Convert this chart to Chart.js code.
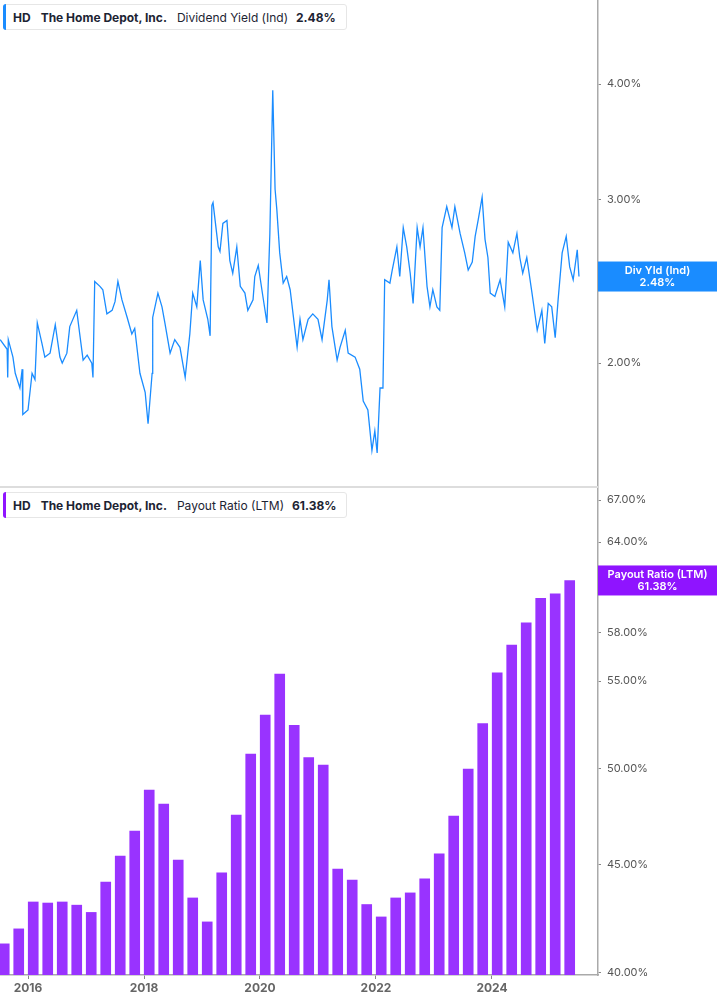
<!DOCTYPE html>
<html><head><meta charset="utf-8">
<script src="https://cdn.jsdelivr.net/npm/chart.js@4"></script>
<style>
body{margin:0;background:#fff;font-family:Inter,"Noto Sans",sans-serif;width:717px;height:1005px;overflow:hidden;position:relative}
.wrap{position:absolute;left:0;width:717px}
.leg{position:absolute;left:3px;height:26px;border:1px solid #e6e6e6;border-radius:3px;background:#fff;font-size:12px;color:#1d2433;display:flex;align-items:center;padding:0 10px 0 9px;box-sizing:border-box;white-space:nowrap;z-index:2}
.leg .bar{position:absolute;left:-1px;top:-1px;bottom:-1px;width:3px;border-radius:3px 0 0 3px}
.leg b{font-weight:700;margin-right:10px}
.leg span{margin-right:8px}
.div{position:absolute;left:0;top:486px;width:598px;height:2px;background:#ddd;z-index:1}
</style></head><body>
<div class="leg" style="top:4px"><div class="bar" style="background:#1a8cff"></div><b>HD</b><b>The Home Depot, Inc.</b><span>Dividend Yield (Ind)</span><b style="margin:0">2.48%</b></div>
<div class="leg" style="top:492px"><div class="bar" style="background:#8f14ff"></div><b>HD</b><b>The Home Depot, Inc.</b><span>Payout Ratio (LTM)</span><b style="margin:0">61.38%</b></div>
<div class="div"></div>
<div class="wrap" style="top:0;height:487px"><canvas id="c1"></canvas></div>
<div class="wrap" style="top:487px;height:518px"><canvas id="c2"></canvas></div>
<script>
const yieldDates=[2015.52,2015.64,2015.65,2015.66,2015.74,2015.78,2015.86,2015.90,2015.91,2016.00,2016.07,2016.12,2016.16,2016.24,2016.29,2016.38,2016.47,2016.55,2016.59,2016.67,2016.72,2016.84,2016.90,2016.95,2017.02,2017.10,2017.12,2017.15,2017.24,2017.29,2017.36,2017.45,2017.50,2017.55,2017.62,2017.71,2017.79,2017.84,2017.93,2018.02,2018.07,2018.14,2018.15,2018.24,2018.31,2018.36,2018.45,2018.53,2018.62,2018.71,2018.79,2018.84,2018.91,2018.97,2019.02,2019.10,2019.14,2019.17,2019.19,2019.28,2019.31,2019.36,2019.43,2019.48,2019.53,2019.60,2019.66,2019.74,2019.79,2019.88,2019.91,2019.97,2020.05,2020.12,2020.17,2020.22,2020.26,2020.29,2020.34,2020.40,2020.46,2020.52,2020.57,2020.64,2020.69,2020.74,2020.83,2020.91,2021.00,2021.07,2021.16,2021.19,2021.24,2021.33,2021.38,2021.47,2021.52,2021.64,2021.72,2021.78,2021.86,2021.93,2021.98,2022.02,2022.07,2022.12,2022.15,2022.24,2022.28,2022.36,2022.41,2022.47,2022.53,2022.59,2022.64,2022.71,2022.76,2022.81,2022.88,2022.93,2022.98,2023.05,2023.10,2023.14,2023.22,2023.31,2023.36,2023.45,2023.53,2023.59,2023.66,2023.71,2023.76,2023.83,2023.88,2023.93,2023.97,2024.05,2024.14,2024.22,2024.28,2024.36,2024.43,2024.48,2024.53,2024.60,2024.69,2024.78,2024.86,2024.91,2024.97,2025.03,2025.09,2025.14,2025.21,2025.28,2025.34,2025.40,2025.47,2025.50];
const yieldValues=[2.12,2.07,1.93,2.12,2.03,1.95,1.88,1.97,1.76,1.78,1.95,1.92,2.21,2.10,2.03,2.05,2.20,2.03,2.00,2.05,2.19,2.28,2.13,2.015,2.04,2.00,1.93,2.45,2.42,2.40,2.26,2.28,2.33,2.45,2.34,2.24,2.15,2.18,1.95,1.86,1.72,1.95,2.24,2.38,2.30,2.21,2.05,2.12,2.08,1.93,2.15,2.38,2.30,2.58,2.34,2.23,2.14,2.96,2.98,2.67,2.64,2.83,2.85,2.58,2.50,2.67,2.42,2.38,2.28,2.34,2.48,2.55,2.36,2.21,2.76,3.94,3.08,2.93,2.63,2.44,2.48,2.40,2.26,2.08,2.23,2.12,2.23,2.26,2.23,2.12,2.34,2.46,2.19,2.015,2.08,2.17,2.05,2.03,1.97,1.82,1.78,1.61,1.69,1.60,1.88,1.88,2.46,2.44,2.52,2.67,2.48,2.80,2.67,2.50,2.32,2.80,2.67,2.80,2.42,2.30,2.40,2.30,2.28,2.80,2.95,2.80,2.95,2.76,2.63,2.52,2.57,2.74,2.85,3.02,2.72,2.60,2.38,2.36,2.46,2.30,2.70,2.63,2.76,2.60,2.50,2.60,2.38,2.17,2.28,2.10,2.32,2.30,2.13,2.34,2.63,2.74,2.54,2.46,2.65,2.48];
const payoutDates=[2015.59,2015.84,2016.09,2016.34,2016.59,2016.84,2017.09,2017.34,2017.59,2017.84,2018.09,2018.34,2018.59,2018.84,2019.09,2019.34,2019.59,2019.84,2020.09,2020.34,2020.59,2020.84,2021.09,2021.34,2021.59,2021.84,2022.09,2022.34,2022.59,2022.84,2023.09,2023.34,2023.59,2023.84,2024.09,2024.34,2024.59,2024.84,2025.09,2025.34];
const payoutValues=[41.29,41.97,43.22,43.17,43.22,43.07,42.73,44.17,45.44,46.70,48.83,48.09,45.24,43.41,42.29,44.62,47.52,50.79,53.0,55.42,52.4,50.6,50.18,44.8,44.27,43.1,42.52,43.41,43.65,44.32,45.55,47.46,49.96,52.5,55.5,57.2,58.6,60.2,60.5,61.38];
const yieldTicks=[2,3,4];
const payoutTicks=[40,45,50,55,58,61,64,67];
const xYears=[2016,2018,2020,2022,2024];

const FONT='Inter, "Noto Sans", sans-serif';
function badge(text1,text2,color){
  return {id:'badge',afterDraw(ch){
    const c=ch.ctx,ys=ch.scales.y,ds=ch.data.datasets[0].data,last=ds[ds.length-1].y;
    const y=ys.getPixelForValue(last),x0=ch.chartArea.right;
    c.save();c.fillStyle=color;c.fillRect(x0,y-15,ch.width-x0,30);
    c.fillStyle='#fff';c.font='600 11px '+FONT;c.textAlign='center';c.textBaseline='middle';
    const cx=(x0+ch.width)/2;c.fillText(text1,cx,y-6);c.fillText(text2,cx,y+6);c.restore();
  }};
}
const yCommon=(min,max,ticks)=>({type:'logarithmic',position:'right',min,max,
  afterBuildTicks(s){s.ticks=ticks.map(v=>({value:v}));},
  afterFit(s){s.width=119;s.paddingTop=0;s.paddingBottom=0;},
  border:{display:true,color:'#aaa',width:1.5},
  grid:{drawOnChartArea:false,drawTicks:true,tickLength:3,color:'#888'},
  ticks:{color:'#555',padding:6,font:{family:FONT,size:11},callback:v=>v.toFixed(2)+'%'}});

new Chart(document.getElementById('c1'),{
  type:'line',
  data:{datasets:[{data:yieldDates.map((d,i)=>({x:d,y:yieldValues[i]})),borderColor:'#1a8cff',borderWidth:1.3,pointRadius:0,tension:0}]},
  options:{responsive:true,maintainAspectRatio:false,animation:false,layout:{padding:0},
    plugins:{legend:{display:false},tooltip:{enabled:false}},
    scales:{x:{type:'linear',min:2015.517,max:2025.828,display:false},
      y:yCommon(1.47,4.93,yieldTicks)}},
  plugins:[badge('Div Yld (Ind)','2.48%','#1a8cff')]
});
new Chart(document.getElementById('c2'),{
  type:'bar',
  data:{datasets:[{data:payoutDates.map((d,i)=>({x:d,y:payoutValues[i]})),backgroundColor:'#9933ff',barThickness:10}]},
  options:{responsive:true,maintainAspectRatio:false,animation:false,layout:{padding:0},
    plugins:{legend:{display:false},tooltip:{enabled:false}},
    scales:{x:{type:'linear',offset:false,min:2015.517,max:2025.828,
        afterBuildTicks(s){s.ticks=xYears.map(v=>({value:v}));},
        afterFit(s){s.height=30;s.paddingLeft=0;s.paddingRight=0;},
        border:{display:true,color:'#aaa',width:1.5},
        grid:{drawOnChartArea:false,drawTicks:true,tickLength:4,color:'#888',offset:false},
        ticks:{color:'#666',padding:2,font:{family:FONT,size:12,weight:'700'},callback:v=>String(v)}},
      y:yCommon(39.91,67.97,payoutTicks)}},
  plugins:[badge('Payout Ratio (LTM)','61.38%','#8f14ff')]
});
</script></body></html>
